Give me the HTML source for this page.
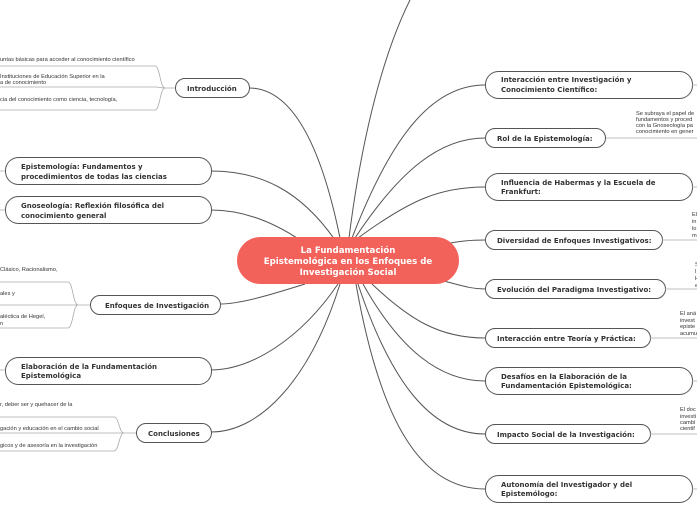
<!DOCTYPE html>
<html><head><meta charset="utf-8"><style>
html,body{margin:0;padding:0;background:#fff;}
svg{display:block;}
.n{fill:#fff;stroke:#555;stroke-width:1;}
.t{font-family:"DejaVu Sans",sans-serif;font-weight:bold;font-size:7px;fill:#333;}
.s{font-family:"Liberation Sans",sans-serif;font-size:5.7px;fill:#333;}
.l{fill:none;stroke:#555;stroke-width:1;}
.g{fill:none;stroke:#aaa;stroke-width:0.8;}
</style></head><body>
<svg width="697" height="520" viewBox="0 0 697 520" xmlns="http://www.w3.org/2000/svg">
<path class="l" d="M349,238 C360,150 380,60 410,0"/>
<path class="l" d="M352,238 C390,140 430,85 485,85"/>
<path class="l" d="M355,238 C400,170 440,138 485,138"/>
<path class="l" d="M358,238 C410,200 440,187 485,187"/>
<path class="l" d="M440,245 C460,241 470,240 485,240"/>
<path class="l" d="M440,280 C460,285 470,289 485,289"/>
<path class="l" d="M372,284 C410,320 440,338 485,338"/>
<path class="l" d="M363,284 C400,350 440,381 485,381"/>
<path class="l" d="M358,284 C390,380 430,434 485,434"/>
<path class="l" d="M356,284 C380,420 420,489 485,489"/>
<path class="l" d="M340,238 C320,140 290,88 249,88"/>
<path class="l" d="M335,240 C300,190 260,171 211,171"/>
<path class="l" d="M300,240 C270,220 240,210 211,210"/>
<path class="l" d="M305,284 C270,295 240,304 220,304"/>
<path class="l" d="M338,284 C300,340 250,370 211,370"/>
<path class="l" d="M340,284 C310,380 260,432 211,432"/>
<rect x="237" y="237" width="222" height="47" rx="23.5" fill="#f2615a"/>
<text x="348" y="253" text-anchor="middle" font-family="DejaVu Sans,sans-serif" font-weight="bold" font-size="8.6" fill="#fff">La Fundamentación</text>
<text x="348" y="264" text-anchor="middle" font-family="DejaVu Sans,sans-serif" font-weight="bold" font-size="8.6" fill="#fff">Epistemológica en los Enfoques de</text>
<text x="348" y="275" text-anchor="middle" font-family="DejaVu Sans,sans-serif" font-weight="bold" font-size="8.6" fill="#fff">Investigación Social</text>
<rect class="n" x="485.5" y="71.5" width="207" height="27" rx="13"/>
<text class="t" x="501" y="82">Interacción entre Investigación y</text>
<text class="t" x="501" y="92">Conocimiento Científico:</text>
<rect class="n" x="485.5" y="128.5" width="120" height="19" rx="9.5"/>
<text class="t" x="497" y="141">Rol de la Epistemología:</text>
<rect class="n" x="485.5" y="173.5" width="207" height="27" rx="13"/>
<text class="t" x="501" y="185">Influencia de Habermas y la Escuela de</text>
<text class="t" x="501" y="194">Frankfurt:</text>
<rect class="n" x="485.5" y="230.5" width="177" height="19" rx="9.5"/>
<text class="t" x="497" y="243">Diversidad de Enfoques Investigativos:</text>
<rect class="n" x="485.5" y="279.5" width="180" height="19" rx="9.5"/>
<text class="t" x="497" y="292">Evolución del Paradigma Investigativo:</text>
<rect class="n" x="485.5" y="328.5" width="165" height="19" rx="9.5"/>
<text class="t" x="497" y="341">Interacción entre Teoría y Práctica:</text>
<rect class="n" x="485.5" y="367.5" width="207" height="27" rx="13"/>
<text class="t" x="501" y="379">Desafíos en la Elaboración de la</text>
<text class="t" x="501" y="388">Fundamentación Epistemológica:</text>
<rect class="n" x="485.5" y="424.5" width="165" height="19" rx="9.5"/>
<text class="t" x="497" y="437">Impacto Social de la Investigación:</text>
<rect class="n" x="485.5" y="475.5" width="207" height="27" rx="13"/>
<text class="t" x="501" y="487">Autonomía del Investigador y del</text>
<text class="t" x="501" y="496">Epistemólogo:</text>
<path class="g" d="M692,85 H697 M606,138 H697 M692,187 H697 M662,240 H697 M665,289 H697 M650,338 H697 M692,381 H697 M650,434 H697 M692,489 H697"/>
<text class="s" x="636" y="115">Se subraya el papel de</text>
<text class="s" x="636" y="121">fundamentos y proced</text>
<text class="s" x="636" y="127">con la Gnoseología pa</text>
<text class="s" x="636" y="133">conocimiento en gener</text>
<text class="s" x="692" y="216">El</text><text class="s" x="692" y="223">in</text><text class="s" x="692" y="230">lo</text><text class="s" x="692" y="237">m</text>
<text class="s" x="695" y="266">S</text><text class="s" x="695" y="273">l</text><text class="s" x="695" y="280">H</text><text class="s" x="695" y="287">e</text>
<text class="s" x="680" y="315">El aná</text><text class="s" x="680" y="322">invest</text><text class="s" x="680" y="328">episte</text><text class="s" x="680" y="335">acumu</text>
<text class="s" x="680" y="411">El doc</text><text class="s" x="680" y="418">investi</text><text class="s" x="680" y="424">cambi</text><text class="s" x="680" y="430">cientif</text>
<rect class="n" x="175.5" y="78.5" width="74" height="19" rx="9.5"/>
<text class="t" x="187" y="91">Introducción</text>
<rect class="n" x="5.5" y="157.5" width="206" height="27" rx="13"/>
<text class="t" x="21" y="169">Epistemología: Fundamentos y</text>
<text class="t" x="21" y="179">procedimientos de todas las ciencias</text>
<rect class="n" x="5.5" y="196.5" width="206" height="27" rx="13"/>
<text class="t" x="21" y="208">Gnoseología: Reflexión filosófica del</text>
<text class="t" x="21" y="218">conocimiento general</text>
<rect class="n" x="90.5" y="295.5" width="130" height="19" rx="9.5"/>
<text class="t" x="105" y="308">Enfoques de Investigación</text>
<rect class="n" x="5.5" y="357.5" width="206" height="27" rx="13"/>
<text class="t" x="21" y="369">Elaboración de la Fundamentación</text>
<text class="t" x="21" y="378">Epistemológica</text>
<rect class="n" x="136.5" y="423.5" width="75" height="19" rx="9.5"/>
<text class="t" x="148" y="436">Conclusiones</text>
<path class="g" d="M175,88 H165 M165,88 C160,88 160,66 155,66 H0 M165,88 C160,88 160,87 155,87 H0 M165,88 C160,88 160,110 155,110 H0"/>
<path class="g" d="M0,171 H5 M0,210 H5 M0,370 H5"/>
<path class="g" d="M90,305 H78 M78,305 C73,305 73,282 68,282 H0 M78,305 C73,305 73,305 68,305 H0 M78,305 C73,305 73,328 68,328 H0"/>
<path class="g" d="M136,433 H124 M124,433 C119,433 119,417 114,417 H0 M124,433 C119,433 119,433 114,433 H0 M124,433 C119,433 119,451 114,451 H0"/>
<text class="s" x="0" y="61">untas básicas para acceder al conocimiento científico</text>
<text class="s" x="0" y="78">Instituciones de Educación Superior en la</text>
<text class="s" x="0" y="84">a de conocimiento</text>
<text class="s" x="0" y="101">cia del conocimiento como ciencia, tecnología,</text>
<text class="s" x="0" y="271">Clásico, Racionalismo,</text>
<text class="s" x="0" y="295">ales y</text>
<text class="s" x="0" y="318">aléctica de Hegel,</text>
<text class="s" x="0" y="325">n</text>
<text class="s" x="0" y="406">r, deber ser y quehacer de la</text>
<text class="s" x="0" y="430">gación y educación en el cambio social</text>
<text class="s" x="0" y="447">gicos y de asesoría en la investigación</text>
</svg>
</body></html>
